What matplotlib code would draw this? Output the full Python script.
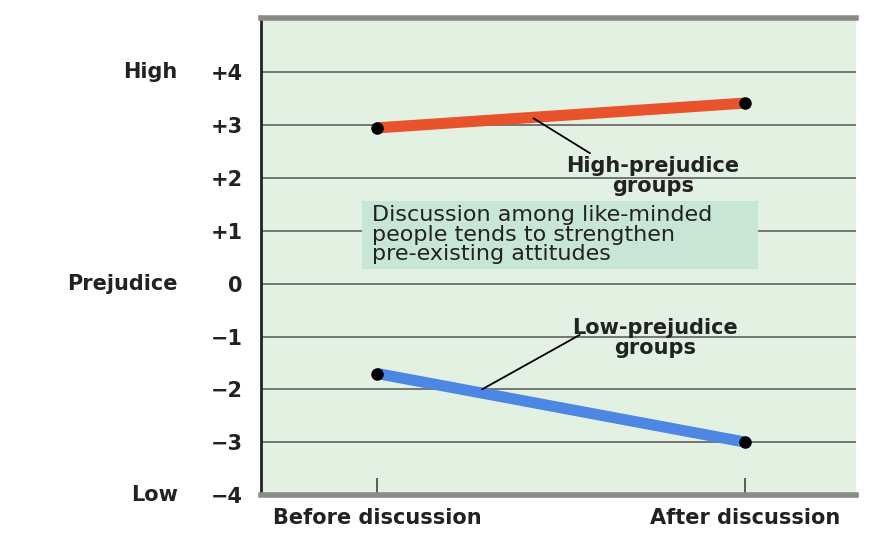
import matplotlib.pyplot as plt
from matplotlib.patches import Rectangle

# data
phases = ["Before discussion", "After discussion"]
high_prejudice = [2.95, 3.42]
low_prejudice = [-1.7, -3.0]
y_ticks = [4, 3, 2, 1, 0, -1, -2, -3, -4]
y_tick_labels = ["+4", "+3", "+2", "+1", "0", "\u22121", "\u22122", "\u22123", "\u22124"]

plt.rcParams['font.family'] = ['DejaVu Sans']
txt_color = '#222222'
fs = 15

fig = plt.figure(figsize=(8.79, 5.36), dpi=100)
ax = fig.add_axes([261 / 879, 1 - 495 / 536, (856 - 261) / 879, (495 - 18) / 536])
ax.set_facecolor('#e3f1e3')

x = list(range(len(phases)))
ax.set_xlim(-0.315, 1.30)
ax.set_ylim(-4, 5.03)

for t in y_ticks[:-1]:
    ax.axhline(t, color='#555555', lw=1.1, zorder=1)

ax.plot(x, high_prejudice, color='#e8532b', lw=8, solid_capstyle='butt', zorder=3)
ax.plot(x, low_prejudice, color='#4b87e3', lw=8, solid_capstyle='butt', zorder=3)
ax.plot(x, high_prejudice, 'o', color='black', ms=8, zorder=4)
ax.plot(x, low_prejudice, 'o', color='black', ms=8, zorder=4)

# spines
ax.spines['right'].set_visible(False)
ax.spines['top'].set_color('#8a8a8a')
ax.spines['top'].set_linewidth(4)
ax.spines['bottom'].set_color('#8a8a8a')
ax.spines['bottom'].set_linewidth(4)
ax.spines['left'].set_color('#222222')
ax.spines['left'].set_linewidth(2)

ax.set_yticks(y_ticks)
ax.set_yticklabels(y_tick_labels, fontsize=fs, fontweight='bold', color=txt_color)
ax.tick_params(axis='y', length=0, pad=13)
ax.set_xticks(x)
ax.set_xticklabels(phases, fontsize=fs, fontweight='bold', color=txt_color)
ax.tick_params(axis='x', direction='in', length=12, width=1.2, color='#444444', pad=9)

# side labels
tr = ax.get_yaxis_transform()
for lab, yv in [("High", 4), ("Prejudice", 0), ("Low", -4)]:
    ax.text(-0.14, yv, lab, transform=tr, ha='right', va='center',
            fontsize=fs, fontweight='bold', color=txt_color)

# annotations
ax.annotate('', xy=(0.425, 3.13), xytext=(0.578, 2.47),
            arrowprops=dict(arrowstyle='-', color='black', lw=1.3, shrinkA=0, shrinkB=0), zorder=5)
ax.text(0.748, 2.04, "High-prejudice\ngroups", ha='center', va='center', fontsize=fs,
        fontweight='bold', color=txt_color, linespacing=1.0, zorder=5)

ax.annotate('', xy=(0.285, -2.0), xytext=(0.55, -0.97),
            arrowprops=dict(arrowstyle='-', color='black', lw=1.3, shrinkA=0, shrinkB=0), zorder=5)
ax.text(0.755, -1.03, "Low-prejudice\ngroups", ha='center', va='center', fontsize=fs,
        fontweight='bold', color=txt_color, linespacing=1.0, zorder=5)

ax.add_patch(Rectangle((-0.04, 0.28), 1.075, 1.29, fc='#c8e6d5', ec='none', zorder=4))
ax.text(-0.015, 0.93, "Discussion among like-minded\npeople tends to strengthen\npre-existing attitudes",
        ha='left', va='center', fontsize=16, color=txt_color, linespacing=0.95, zorder=5)

fig.savefig('out.png', dpi=100)
